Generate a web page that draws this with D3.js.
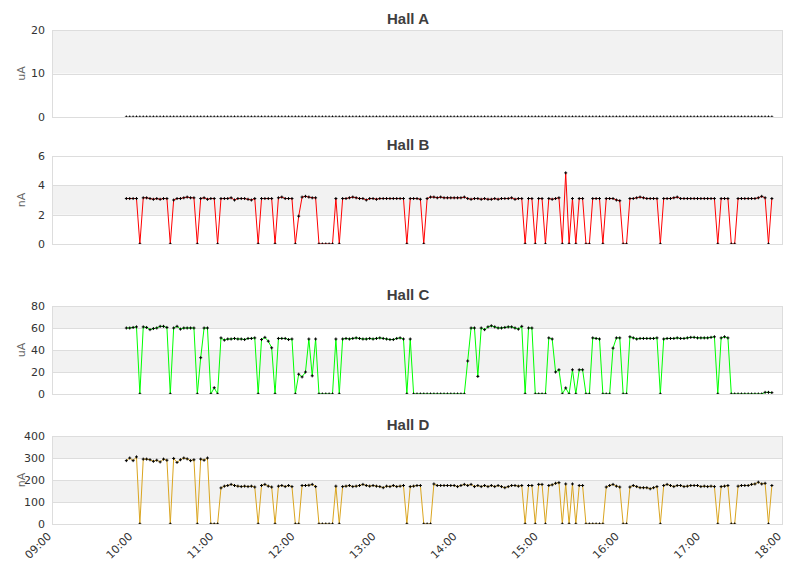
<!DOCTYPE html>
<html>
<head>
<meta charset="utf-8">
<script src="https://cdn.jsdelivr.net/npm/d3@7/dist/d3.min.js"></script>
<style>
	body { margin: 0; background: #fff; }
	svg { font-family: "DejaVu Sans", Verdana, sans-serif; }
</style>
</head>
<body>
<div id="chart"></div>
<script>

var hallNames = ["Hall A", "Hall B", "Hall C", "Hall D"]
var unitNames = ["uA", "nA", "uA", "nA"]
var yMaxValues = [20, 6, 80, 400]
var yTickValues = [[0, 10, 20], [0, 2, 4, 6], [0, 20, 40, 60, 80], [0, 100, 200, 300, 400]]
var seriesColors = ["none", "#ff0000", "#00ff00", "#daa520"]
var xTickLabels = ["09:00", "10:00", "11:00", "12:00", "13:00", "14:00", "15:00", "16:00", "17:00", "18:00"]

// samples every 2.5 min from 09:55
var startTime = "09:55"
var stepMinutes = 2.5

var hallA = [
	0,0,0,0,0,0,0,0,0,0, 0,0,0,0,0,0,0,0,0,0,
	0,0,0,0,0,0,0,0,0,0, 0,0,0,0,0,0,0,0,0,0,
	0,0,0,0,0,0,0,0,0,0, 0,0,0,0,0,0,0,0,0,0,
	0,0,0,0,0,0,0,0,0,0, 0,0,0,0,0,0,0,0,0,0,
	0,0,0,0,0,0,0,0,0,0, 0,0,0,0,0,0,0,0,0,0,
	0,0,0,0,0,0,0,0,0,0, 0,0,0,0,0,0,0,0,0,0,
	0,0,0,0,0,0,0,0,0,0, 0,0,0,0,0,0,0,0,0,0,
	0,0,0,0,0,0,0,0,0,0, 0,0,0,0,0,0,0,0,0,0,
	0,0,0,0,0,0,0,0,0,0, 0,0,0,0,0,0,0,0,0,0,
	0,0,0,0,0,0,0,0,0,0, 0,0
]

var hallB = [
	3.1,3.1,3.1,3.1,0,3.15,3.15,3.1,3.05,3.1,
	3.05,3.1,3.1,0,3.0,3.1,3.1,3.15,3.2,3.15,
	3.15,0,3.1,3.15,3.05,3.1,3.1,0,3.1,3.1,
	3.1,3.15,3.0,3.1,3.1,3.1,3.05,3.0,3.1,0,
	3.1,3.1,3.1,3.1,0,3.15,3.2,3.1,3.1,3.1,
	0,1.9,3.2,3.25,3.2,3.15,3.15,0,0,0,
	0,0,3.1,0,3.1,3.1,3.15,3.2,3.15,3.1,
	3.1,3.0,3.1,3.1,3.05,3.1,3.1,3.1,3.1,3.1,
	3.1,3.1,3.1,0,3.1,3.1,3.1,3.05,0,3.1,
	3.2,3.2,3.15,3.2,3.15,3.15,3.15,3.15,3.15,3.15,
	3.2,3.1,3.05,3.1,3.1,3.05,3.1,3.05,3.05,3.1,
	3.05,3.1,3.1,3.1,3.15,3.05,3.1,3.1,0,3.1,
	3.1,0,3.1,3.1,0,3.1,3.05,3.1,3.15,0,
	4.85,0,3.1,0,3.1,3.1,0,0,3.1,3.1,
	3.1,0,3.1,3.1,3.1,3.0,2.95,0,0,3.1,
	3.1,3.15,3.2,3.15,3.1,3.1,3.1,3.1,0,3.1,
	3.1,3.1,3.15,3.2,3.1,3.1,3.1,3.1,3.1,3.1,
	3.1,3.1,3.1,3.1,3.1,0,3.1,3.1,3.1,0,
	0,3.1,3.1,3.1,3.1,3.1,3.1,3.15,3.25,3.15,
	0,3.1
]

var hallC = [
	60,60,60.5,61,0,61,60.5,58.5,59.5,60,
	61.5,61.5,60.5,0,60,61.5,59,60,60,60,
	60,0,33,60,60,0,5.7,0,51,49,
	50,50,50.5,50,50,49.5,50.5,50.5,51,0,
	49.5,51.5,48,42,0,50.5,50.5,50.5,49.5,50,
	0,18,15.5,20,50,16.5,50,0,0,0,
	0,0,50,0,50,50.5,50,50.5,51,50.5,
	50,50,50.5,50,50.5,51,50.5,50,49.5,49.5,
	50.5,51,50,0,50,0,0,0,0,0,
	0,0,0,0,0,0,0,0,0,0,
	0,30,60,60,16,60,58.5,61,62,61,
	60,60,60.5,61,61,60,59,61.5,0,60,
	60,0,0,0,0,51,50,20,22,0,
	5.5,0,22,0,22,22,0,0,51,50.5,
	50,0,0,0,41.7,51,51,0,0,52,
	51,50,50.5,50.5,50.5,50.5,50.5,51,0,50,
	50.5,50.5,50.5,51,50.5,50.5,51,51.5,51.5,51,
	51,51,51,51.5,52,0,51,52,51,0,
	0,0,0,0,0,0,0,0,0,1.5,
	1.5,1.2
]

var hallD = [
	288,300,288,305,0,295,295,292,285,290,
	282,295,290,0,298,280,292,300,296,288,
	292,0,295,290,300,0,0,0,164,172,
	175,180,175,172,170,172,170,172,168,0,
	175,180,172,168,0,172,175,170,175,170,
	0,0,175,175,176,180,170,0,0,0,
	0,0,172,0,170,172,175,170,172,175,
	180,175,172,175,172,170,165,172,170,175,
	170,172,175,0,170,172,175,175,0,0,
	0,182,175,175,175,175,175,175,170,175,
	180,175,180,170,175,170,175,170,175,170,
	175,170,165,170,175,175,172,175,0,175,
	175,0,180,180,0,175,178,185,188,0,
	182,0,182,0,175,175,0,0,0,0,
	0,0,168,175,180,172,168,0,0,168,
	175,170,165,165,165,160,165,170,0,175,
	180,175,170,175,175,170,172,175,175,175,
	170,172,170,172,170,0,170,172,175,0,
	0,172,175,175,175,180,182,190,182,185,
	0,175
]

var hallSeries = [hallA, hallB, hallC, hallD]

var width = 811,
	height = 578,
	plotLeft = 52,
	plotRight = 782;

// top / bottom pixel of each plot area
var panelTop = [30, 156, 306, 436],
	panelBottom = [117, 244, 394, 524];

var parseTime = d3.timeParse("%H:%M")

var xScale = d3.scaleTime()
	.domain([parseTime(xTickLabels[0]), parseTime(xTickLabels[xTickLabels.length - 1])])
	.range([plotLeft, plotRight]);

var t0 = parseTime(startTime)

function sampleTime(i){
	return new Date(t0.getTime() + i * stepMinutes * 60000)
}

var svg = d3.select("#chart")
	.append("svg")
	.attr("width", width)
	.attr("height", height)

svg.append("rect")
	.attr("width", width)
	.attr("height", height)
	.attr("fill", "#ffffff")

hallNames.forEach(function(name, p){

	var yScale = d3.scaleLinear()
		.domain([0, yMaxValues[p]])
		.range([panelBottom[p], panelTop[p]]);

	var g = svg.append("g").attr("class", "panel")

	var ticks = yTickValues[p]

	// alternate bands, counted from the bottom
	for (var k = 0; k < ticks.length - 1; k++){
		if (k % 2 == 1){
			g.append("rect")
				.attr("x", plotLeft)
				.attr("y", yScale(ticks[k + 1]))
				.attr("width", plotRight - plotLeft)
				.attr("height", yScale(ticks[k]) - yScale(ticks[k + 1]))
				.attr("fill", "#f2f2f2")
		}
	}

	g.selectAll(".grid")
		.data(ticks)
		.enter().append("line")
		.attr("class", "grid")
		.attr("x1", plotLeft)
		.attr("x2", plotRight)
		.attr("y1", function(d){ return Math.round(yScale(d)) + 0.5 })
		.attr("y2", function(d){ return Math.round(yScale(d)) + 0.5 })
		.attr("stroke", "#dddddd")

	// plot frame sides
	g.append("line")
		.attr("x1", plotLeft + 0.5).attr("x2", plotLeft + 0.5)
		.attr("y1", panelTop[p]).attr("y2", panelBottom[p])
		.attr("stroke", "#dddddd")
	g.append("line")
		.attr("x1", plotRight + 0.5).attr("x2", plotRight + 0.5)
		.attr("y1", panelTop[p]).attr("y2", panelBottom[p] + 1)
		.attr("stroke", "#dddddd")

	g.selectAll(".ytick")
		.data(ticks)
		.enter().append("text")
		.attr("class", "ytick")
		.attr("x", plotLeft - 7)
		.attr("y", function(d){ return yScale(d) })
		.attr("dy", "0.35em")
		.attr("text-anchor", "end")
		.attr("font-size", "11px")
		.attr("fill", "#333333")
		.text(function(d){ return d })

	g.append("text")
		.attr("transform", "translate(25," + ((panelTop[p] + panelBottom[p]) / 2) + ") rotate(-90)")
		.attr("text-anchor", "middle")
		.attr("font-size", "11px")
		.attr("fill", "#666666")
		.text(unitNames[p])

	g.append("text")
		.attr("x", 408)
		.attr("y", panelTop[p] - 6)
		.attr("text-anchor", "middle")
		.attr("font-family", "'Liberation Sans', Arial, sans-serif")
		.attr("font-size", "15px")
		.attr("font-weight", "bold")
		.attr("fill", "#3e3e3e")
		.text(name)

	var clipId = "clip" + p
	svg.append("clipPath")
		.attr("id", clipId)
		.append("rect")
		.attr("x", plotLeft)
		.attr("y", panelTop[p] - 4)
		.attr("width", plotRight - plotLeft)
		.attr("height", panelBottom[p] - panelTop[p] + 4)

	var data = hallSeries[p].map(function(v, i){
		return {t: sampleTime(i), v: v}
	})

	var line = d3.line()
		.x(function(d){ return xScale(d.t) })
		.y(function(d){ return yScale(d.v) })

	var plot = g.append("g").attr("clip-path", "url(#" + clipId + ")")

	plot.append("path")
		.datum(data)
		.attr("d", line)
		.attr("fill", "none")
		.attr("stroke", seriesColors[p])
		.attr("stroke-width", 1)

	plot.selectAll(".marker")
		.data(data)
		.enter().append("path")
		.attr("class", "marker")
		.attr("transform", function(d){
			return "translate(" + xScale(d.t) + "," + yScale(d.v) + ")"
		})
		.attr("d", "M-1.5,0H1.5M0,-1.5V1.5")
		.attr("stroke", "#000000")
		.attr("stroke-width", 1)
		.attr("fill", "none")
})

// time labels under the last panel
svg.selectAll(".xtick")
	.data(xTickLabels)
	.enter().append("text")
	.attr("class", "xtick")
	.attr("transform", function(d){
		return "translate(" + xScale(parseTime(d)) + "," + (panelBottom[3] + 13) + ") rotate(-45)"
	})
	.attr("text-anchor", "end")
	.attr("font-size", "11px")
	.attr("fill", "#333333")
	.text(function(d){ return d })

</script>
</body>
</html>
